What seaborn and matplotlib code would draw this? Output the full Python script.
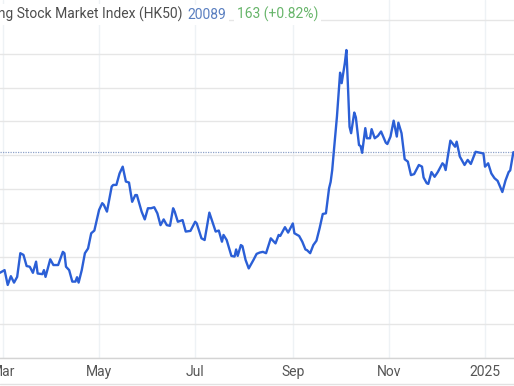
import pandas as pd
import matplotlib
matplotlib.use("Agg")
import matplotlib.pyplot as plt
from matplotlib.lines import Line2D
import seaborn as sns

# ----------------------------------------
# Data (daily-ish closes)
# ----------------------------------------
dates = [
    "2024-02-28", "2024-03-02", "2024-03-04", "2024-03-06", "2024-03-08", "2024-03-10",
    "2024-03-12", "2024-03-14", "2024-03-16", "2024-03-18", "2024-03-20", "2024-03-22",
    "2024-03-23", "2024-03-26", "2024-03-27", "2024-03-28", "2024-03-31", "2024-04-02",
    "2024-04-05", "2024-04-08", "2024-04-09", "2024-04-10", "2024-04-12", "2024-04-14",
    "2024-04-16", "2024-04-17", "2024-04-18", "2024-04-20", "2024-04-22", "2024-04-24",
    "2024-04-26", "2024-04-28", "2024-05-01", "2024-05-03", "2024-05-04", "2024-05-06",
    "2024-05-09", "2024-05-10", "2024-05-12", "2024-05-14", "2024-05-16", "2024-05-18",
    "2024-05-20", "2024-05-22", "2024-05-24", "2024-05-25", "2024-05-28", "2024-05-30",
    "2024-06-01", "2024-06-03", "2024-06-05", "2024-06-07", "2024-06-09", "2024-06-11",
    "2024-06-13", "2024-06-15", "2024-06-17", "2024-06-18", "2024-06-20", "2024-06-23",
    "2024-06-25", "2024-06-28", "2024-07-01", "2024-07-02", "2024-07-05", "2024-07-07",
    "2024-07-10", "2024-07-14", "2024-07-16", "2024-07-18", "2024-07-19", "2024-07-21",
    "2024-07-24", "2024-07-26", "2024-07-27", "2024-07-28", "2024-07-30", "2024-07-31",
    "2024-08-02", "2024-08-04", "2024-08-07", "2024-08-09", "2024-08-11", "2024-08-13",
    "2024-08-15", "2024-08-18", "2024-08-19", "2024-08-21", "2024-08-23", "2024-08-24",
    "2024-08-27", "2024-08-29", "2024-09-01", "2024-09-02", "2024-09-05", "2024-09-07",
    "2024-09-09", "2024-09-10", "2024-09-12", "2024-09-14", "2024-09-16", "2024-09-18",
    "2024-09-20", "2024-09-22", "2024-09-24", "2024-09-25", "2024-09-26", "2024-09-27",
    "2024-09-29", "2024-10-01", "2024-10-02", "2024-10-04", "2024-10-05", "2024-10-06",
    "2024-10-07", "2024-10-08", "2024-10-10", "2024-10-11", "2024-10-13", "2024-10-14",
    "2024-10-15", "2024-10-17", "2024-10-18", "2024-10-20", "2024-10-21", "2024-10-23",
    "2024-10-25", "2024-10-27", "2024-10-30", "2024-10-31", "2024-11-02", "2024-11-04",
    "2024-11-06", "2024-11-07", "2024-11-09", "2024-11-11", "2024-11-13", "2024-11-15",
    "2024-11-17", "2024-11-20", "2024-11-22", "2024-11-23", "2024-11-25", "2024-11-26",
    "2024-11-28", "2024-11-30", "2024-12-02", "2024-12-05", "2024-12-06", "2024-12-07",
    "2024-12-10", "2024-12-13", "2024-12-14", "2024-12-16", "2024-12-19", "2024-12-21",
    "2024-12-23", "2024-12-26", "2024-12-29", "2024-12-31", "2025-01-01", "2025-01-03",
    "2025-01-05", "2025-01-07", "2025-01-09", "2025-01-12", "2025-01-14", "2025-01-16",
    "2025-01-17", "2025-01-19",
]
close = [
    16520, 16600, 16160, 16420, 16230, 16400,
    17100, 17050, 16720, 16700, 16520, 16850,
    16500, 16480, 16600, 16400, 16920, 16750,
    16750, 17140, 17100, 16700, 16600, 16260,
    16260, 16390, 16230, 16600, 17100, 17240,
    17690, 17770, 18380, 18580, 18530, 18330,
    19070, 19120, 19120, 19460, 19660, 19220,
    19190, 18620, 18820, 18820, 18330, 18100,
    18430, 18430, 18460, 18280, 17930, 18100,
    17930, 17910, 18430, 18330, 18030, 18080,
    17740, 17760, 18030, 17980, 17540, 17490,
    18300, 17740, 17770, 17440, 17640, 17490,
    17020, 17000, 17210, 17020, 17340, 17310,
    16900, 16650, 16900, 17080, 17120, 17140,
    17100, 17540, 17490, 17390, 17640, 17610,
    17870, 17710, 17980, 17690, 17610, 17440,
    17210, 17190, 17100, 17340, 17470, 17840,
    18260, 18280, 19020, 19210, 19560, 20100,
    21140, 22440, 22130, 22720, 23110, 22030,
    20840, 20650, 21260, 21120, 20300, 20270,
    20070, 20800, 20500, 20500, 20770, 20500,
    20570, 20700, 20370, 20330, 20550, 21020,
    20550, 20960, 20650, 19880, 19810, 19410,
    19440, 19710, 19660, 19340, 19170, 19150,
    19500, 19360, 19500, 19760, 19710, 19560,
    20430, 20250, 20400, 19960, 19710, 19860,
    19740, 20100, 20070, 20050, 19660, 19760,
    19460, 19320, 19240, 18910, 19250, 19500,
    19550, 20089,
]
title = "Hang Seng Stock Market Index (HK50)"
last_close = 20089
change = 163
change_pct = 0.82

tick_dates = ["2024-03-01", "2024-05-01", "2024-07-01", "2024-09-01", "2024-11-01", "2025-01-01"]
tick_labels = ["Mar", "May", "Jul", "Sep", "Nov", "2025"]
y_grid = list(range(14000, 25000, 1000))

# ----------------------------------------
# Plot
# ----------------------------------------
sns.set_style("white")
plt.rcParams["font.family"] = ["Roboto", "DejaVu Sans"]

df = pd.DataFrame({"date": pd.to_datetime(dates), "close": close})

W, H = 514, 386
fig = plt.figure(figsize=(W / 100, H / 100), dpi=100)
ax = fig.add_axes([0, 28 / H, 1, 358 / H])

sns.lineplot(data=df, x="date", y="close", ax=ax, color="#2b5fd6", linewidth=1.7, zorder=3)
ax.axhline(last_close, color="#8ea2c9", linestyle=(0, (1, 1)), linewidth=0.9, zorder=2)

start = pd.Timestamp("2024-03-01")
ax.set_xlim(start - pd.Timedelta(days=1.9), start + pd.Timedelta(days=324.4))
ax.set_ylim(14000, 24590)

ax.set_xticks(pd.to_datetime(tick_dates))
ax.set_xticklabels(tick_labels)
ax.set_yticks(y_grid)
ax.tick_params(axis="x", length=0, pad=5, labelsize=10, labelcolor="#555555")
ax.tick_params(axis="y", length=0, labelleft=False)
ax.set_xlabel("")
ax.set_ylabel("")

ax.grid(axis="y", color="#e6e6e6", linewidth=1)
ax.grid(axis="x", color="#eef2f5", linewidth=1)
for side in ["left", "right", "top"]:
    ax.spines[side].set_visible(False)
ax.spines["bottom"].set_color("#d4d4d4")
ax.spines["bottom"].set_linewidth(1)

# header text (partly cut off at left like the source)
box = dict(facecolor="white", edgecolor="none", pad=2)
ty = 1 - 19 / H
fig.text(183 / W, ty, title, ha="right", va="baseline", fontsize=10, color="#4d4d4d", bbox=box)
fig.text(187 / W, ty, f"{last_close}", ha="left", va="baseline", fontsize=10, color="#5a7fc0", bbox=box)
fig.text(237 / W, ty, f"{change} (+{change_pct:.2f}%)", ha="left", va="baseline", fontsize=10,
         color="#67b56a", bbox=box)

fig.add_artist(Line2D([0, 1], [1 - 384 / H] * 2, color="#e2e2e2", linewidth=1))

fig.savefig("out.png", dpi=100)
